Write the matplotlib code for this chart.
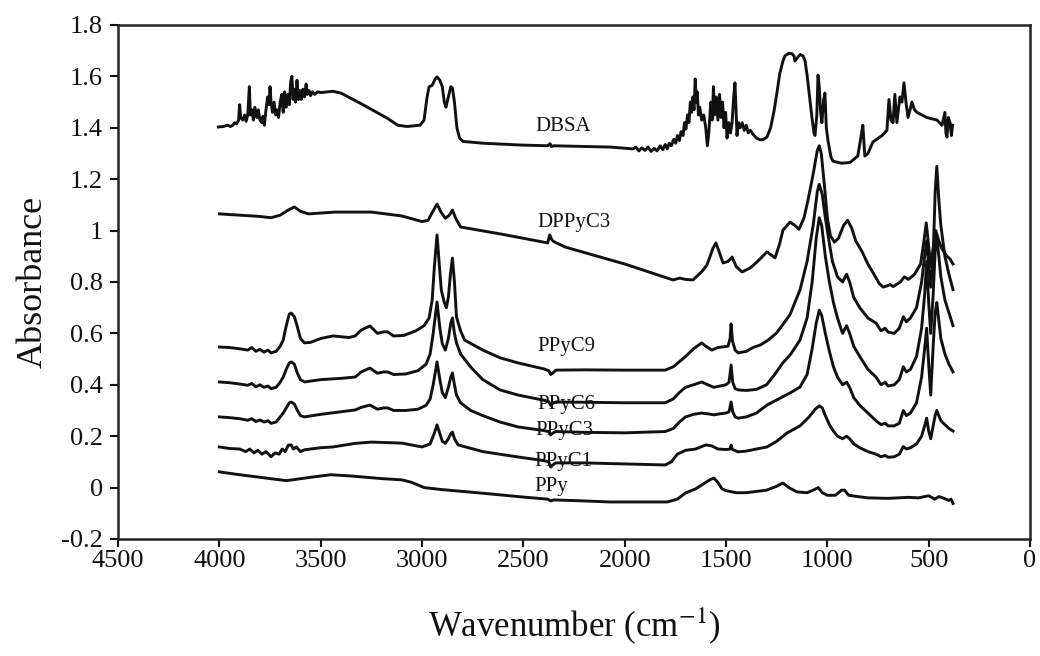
import numpy as np
import matplotlib
matplotlib.use("Agg")
import matplotlib.pyplot as plt

plt.rcParams['font.family'] = ['Liberation Serif', 'DejaVu Serif']
plt.rcParams['mathtext.fontset'] = 'stix'
plt.rcParams['axes.unicode_minus'] = False

# spectra: (wavenumber, absorbance)
dbsa = np.array([
    (4005, 1.403), (3980, 1.405), (3960, 1.41), (3945, 1.405), (3933, 1.41), (3925, 1.42),
    (3915, 1.415), (3905, 1.43), (3900, 1.49), (3895, 1.44), (3885, 1.43), (3875, 1.45),
    (3868, 1.425), (3860, 1.45), (3852, 1.56), (3847, 1.45), (3840, 1.47), (3832, 1.43),
    (3825, 1.48), (3815, 1.44), (3808, 1.47), (3800, 1.43), (3790, 1.42), (3785, 1.445),
    (3778, 1.41), (3770, 1.47), (3762, 1.52), (3755, 1.49), (3750, 1.56), (3745, 1.5),
    (3738, 1.46), (3730, 1.50), (3722, 1.45), (3715, 1.47), (3708, 1.44), (3700, 1.50),
    (3692, 1.53), (3685, 1.46), (3678, 1.54), (3670, 1.48), (3662, 1.53), (3655, 1.49),
    (3648, 1.58), (3642, 1.60), (3636, 1.51), (3630, 1.55), (3624, 1.50), (3617, 1.585),
    (3610, 1.51), (3603, 1.545), (3596, 1.51), (3588, 1.55), (3580, 1.52), (3572, 1.57),
    (3566, 1.53), (3558, 1.545), (3550, 1.525), (3540, 1.54), (3530, 1.53), (3515, 1.54),
    (3500, 1.537), (3440, 1.542), (3400, 1.535), (3306, 1.496), (3173, 1.438), (3120, 1.41),
    (3074, 1.405), (3010, 1.41), (2990, 1.43), (2975, 1.52), (2965, 1.56), (2950, 1.565),
    (2935, 1.59), (2926, 1.598), (2912, 1.585), (2900, 1.56), (2890, 1.50), (2882, 1.48),
    (2870, 1.52), (2858, 1.56), (2850, 1.555), (2840, 1.50), (2828, 1.40), (2815, 1.36),
    (2798, 1.347), (2700, 1.34), (2517, 1.333), (2380, 1.33), (2368, 1.338), (2362, 1.327),
    (2350, 1.33), (2073, 1.325), (1989, 1.32), (1960, 1.318), (1945, 1.325), (1930, 1.31),
    (1915, 1.322), (1900, 1.312), (1885, 1.325), (1870, 1.308), (1855, 1.32), (1840, 1.31),
    (1825, 1.33), (1812, 1.315), (1800, 1.335), (1790, 1.318), (1780, 1.34), (1770, 1.33),
    (1758, 1.355), (1748, 1.34), (1740, 1.37), (1730, 1.35), (1722, 1.385), (1712, 1.37),
    (1705, 1.42), (1698, 1.395), (1690, 1.45), (1683, 1.42), (1676, 1.50), (1670, 1.46),
    (1664, 1.52), (1658, 1.47), (1652, 1.59), (1647, 1.50), (1642, 1.54), (1636, 1.45),
    (1630, 1.48), (1620, 1.43), (1610, 1.45), (1600, 1.40), (1592, 1.33), (1585, 1.38),
    (1575, 1.50), (1568, 1.43), (1562, 1.56), (1556, 1.45), (1548, 1.52), (1540, 1.43),
    (1532, 1.53), (1524, 1.44), (1517, 1.50), (1510, 1.40), (1502, 1.46), (1495, 1.36),
    (1486, 1.42), (1478, 1.38), (1470, 1.42), (1462, 1.52), (1456, 1.575), (1450, 1.46),
    (1446, 1.37), (1438, 1.42), (1430, 1.40), (1420, 1.42), (1410, 1.39), (1400, 1.41),
    (1390, 1.38), (1380, 1.39), (1367, 1.375), (1350, 1.36), (1332, 1.353), (1315, 1.355),
    (1298, 1.364), (1280, 1.40), (1262, 1.47), (1249, 1.535), (1235, 1.61), (1219, 1.66),
    (1209, 1.68), (1190, 1.69), (1174, 1.688), (1165, 1.68), (1160, 1.66), (1150, 1.67),
    (1135, 1.685), (1120, 1.68), (1110, 1.66), (1100, 1.605), (1085, 1.50), (1076, 1.44),
    (1066, 1.38), (1061, 1.37), (1052, 1.45), (1046, 1.605), (1040, 1.56), (1033, 1.46),
    (1027, 1.42), (1018, 1.51), (1012, 1.535), (1005, 1.40), (997, 1.35), (982, 1.285),
    (972, 1.27), (930, 1.262), (888, 1.265), (850, 1.29), (835, 1.36), (825, 1.41),
    (815, 1.29), (800, 1.30), (775, 1.345), (730, 1.37), (706, 1.39), (696, 1.51),
    (686, 1.43), (676, 1.42), (667, 1.53), (657, 1.42), (642, 1.52), (632, 1.50),
    (622, 1.575), (612, 1.50), (602, 1.44), (592, 1.47), (583, 1.50), (570, 1.47),
    (558, 1.46), (509, 1.44), (459, 1.43), (434, 1.41), (420, 1.46), (415, 1.38),
    (410, 1.364), (403, 1.44), (395, 1.42), (388, 1.37), (382, 1.41)])

dppyc3 = np.array([
    (4000, 1.065), (3900, 1.06), (3800, 1.055), (3745, 1.05), (3700, 1.06), (3660, 1.08),
    (3630, 1.092), (3600, 1.075), (3560, 1.065), (3430, 1.072), (3250, 1.072), (3100, 1.057),
    (3000, 1.035), (2970, 1.04), (2950, 1.07), (2926, 1.103), (2905, 1.07), (2885, 1.048),
    (2865, 1.06), (2850, 1.08), (2835, 1.05), (2810, 1.014), (2600, 0.985), (2380, 0.952),
    (2370, 0.983), (2360, 0.965), (2350, 0.957), (2290, 0.935), (2000, 0.87), (1762, 0.808),
    (1728, 0.815), (1700, 0.81), (1663, 0.808), (1620, 0.84), (1594, 0.866), (1565, 0.93),
    (1550, 0.952), (1535, 0.92), (1515, 0.874), (1490, 0.88), (1470, 0.897), (1450, 0.86),
    (1421, 0.839), (1380, 0.855), (1347, 0.878), (1298, 0.917), (1258, 0.894), (1235, 0.95),
    (1219, 1.002), (1184, 1.033), (1160, 1.02), (1140, 1.005), (1115, 1.05), (1095, 1.12),
    (1070, 1.22), (1050, 1.31), (1040, 1.33), (1030, 1.30), (1015, 1.18), (1000, 1.05),
    (985, 0.98), (965, 0.955), (945, 0.97), (920, 1.02), (900, 1.04), (880, 1.01),
    (860, 0.96), (830, 0.92), (800, 0.87), (770, 0.83), (745, 0.795), (725, 0.78),
    (705, 0.785), (690, 0.79), (675, 0.782), (660, 0.79), (640, 0.80), (620, 0.82),
    (600, 0.81), (570, 0.83), (540, 0.87), (525, 0.95), (512, 1.03), (500, 0.94),
    (490, 0.86), (478, 0.93), (465, 1.0), (450, 0.96), (435, 0.93), (410, 0.90),
    (395, 0.89), (380, 0.87)])

ppyc9 = np.array([
    (4000, 0.547), (3950, 0.545), (3900, 0.54), (3860, 0.535), (3840, 0.545), (3820, 0.53),
    (3800, 0.538), (3780, 0.527), (3760, 0.535), (3745, 0.524), (3720, 0.53), (3700, 0.55),
    (3685, 0.574), (3670, 0.63), (3655, 0.675), (3645, 0.679), (3630, 0.665), (3615, 0.625),
    (3600, 0.58), (3580, 0.563), (3550, 0.565), (3500, 0.58), (3440, 0.59), (3360, 0.584),
    (3330, 0.59), (3300, 0.613), (3257, 0.629), (3220, 0.60), (3190, 0.606), (3170, 0.606),
    (3140, 0.59), (3090, 0.592), (3030, 0.61), (2990, 0.63), (2965, 0.66), (2950, 0.73),
    (2940, 0.85), (2926, 0.983), (2915, 0.87), (2905, 0.769), (2890, 0.72), (2880, 0.70),
    (2870, 0.74), (2860, 0.83), (2850, 0.893), (2840, 0.80), (2830, 0.664), (2810, 0.61),
    (2790, 0.574), (2700, 0.535), (2615, 0.505), (2526, 0.485), (2400, 0.462), (2375, 0.455),
    (2365, 0.44), (2355, 0.445), (2340, 0.457), (2200, 0.458), (2000, 0.457), (1800, 0.457),
    (1760, 0.47), (1730, 0.49), (1700, 0.51), (1660, 0.54), (1620, 0.563), (1600, 0.55),
    (1570, 0.535), (1540, 0.545), (1510, 0.548), (1490, 0.55), (1480, 0.58), (1475, 0.637),
    (1468, 0.57), (1455, 0.535), (1440, 0.524), (1400, 0.53), (1367, 0.545), (1330, 0.555),
    (1290, 0.575), (1250, 0.602), (1185, 0.672), (1135, 0.769), (1100, 0.88), (1070, 1.02),
    (1050, 1.15), (1040, 1.18), (1025, 1.14), (1010, 1.05), (990, 0.95), (975, 0.88),
    (950, 0.82), (925, 0.80), (905, 0.83), (890, 0.80), (870, 0.74), (840, 0.70),
    (800, 0.66), (760, 0.64), (735, 0.61), (715, 0.62), (700, 0.605), (670, 0.60),
    (645, 0.62), (625, 0.665), (610, 0.645), (590, 0.66), (560, 0.70), (535, 0.80),
    (520, 0.90), (510, 0.96), (500, 0.86), (490, 0.78), (478, 0.9), (468, 1.15),
    (460, 1.25), (450, 1.12), (440, 1.02), (420, 0.9), (400, 0.83), (380, 0.77)])

ppyc6 = np.array([
    (4000, 0.411), (3950, 0.408), (3900, 0.403), (3860, 0.398), (3840, 0.405), (3820, 0.392),
    (3800, 0.40), (3780, 0.39), (3760, 0.395), (3745, 0.385), (3720, 0.39), (3700, 0.41),
    (3685, 0.43), (3670, 0.46), (3655, 0.485), (3645, 0.489), (3630, 0.48), (3615, 0.445),
    (3600, 0.42), (3580, 0.411), (3500, 0.42), (3400, 0.425), (3330, 0.43), (3300, 0.45),
    (3257, 0.465), (3220, 0.445), (3190, 0.45), (3170, 0.45), (3140, 0.44), (3080, 0.442),
    (3020, 0.455), (2980, 0.48), (2960, 0.52), (2945, 0.60), (2926, 0.722), (2912, 0.62),
    (2900, 0.56), (2885, 0.535), (2870, 0.58), (2858, 0.64), (2850, 0.66), (2840, 0.60),
    (2830, 0.563), (2810, 0.52), (2760, 0.469), (2700, 0.42), (2615, 0.38), (2526, 0.36),
    (2400, 0.34), (2375, 0.335), (2365, 0.32), (2355, 0.328), (2340, 0.333), (2200, 0.332),
    (2000, 0.33), (1800, 0.33), (1760, 0.345), (1730, 0.37), (1700, 0.39), (1660, 0.40),
    (1620, 0.411), (1590, 0.40), (1560, 0.39), (1530, 0.395), (1500, 0.40), (1485, 0.41),
    (1475, 0.477), (1467, 0.41), (1455, 0.385), (1440, 0.38), (1400, 0.378), (1350, 0.382),
    (1300, 0.40), (1260, 0.44), (1220, 0.485), (1180, 0.52), (1135, 0.574), (1100, 0.66),
    (1075, 0.80), (1055, 0.97), (1040, 1.05), (1028, 1.02), (1010, 0.90), (990, 0.80),
    (970, 0.72), (950, 0.66), (925, 0.60), (905, 0.63), (890, 0.60), (870, 0.55),
    (840, 0.51), (800, 0.46), (760, 0.43), (735, 0.40), (715, 0.41), (700, 0.395),
    (670, 0.40), (645, 0.42), (625, 0.47), (610, 0.45), (590, 0.46), (560, 0.51),
    (535, 0.62), (520, 0.75), (510, 0.88), (500, 0.72), (490, 0.60), (478, 0.75),
    (468, 0.92), (460, 0.98), (450, 0.90), (440, 0.82), (420, 0.73), (400, 0.68),
    (380, 0.63)])

ppyc3 = np.array([
    (4000, 0.275), (3950, 0.272), (3900, 0.268), (3860, 0.262), (3840, 0.268), (3820, 0.257),
    (3800, 0.263), (3780, 0.255), (3760, 0.26), (3745, 0.25), (3720, 0.255), (3700, 0.275),
    (3685, 0.29), (3670, 0.31), (3655, 0.33), (3645, 0.333), (3630, 0.325), (3615, 0.30),
    (3600, 0.28), (3580, 0.275), (3500, 0.285), (3400, 0.295), (3330, 0.302), (3300, 0.312),
    (3257, 0.321), (3220, 0.305), (3190, 0.31), (3170, 0.31), (3140, 0.30), (3080, 0.30),
    (3020, 0.305), (2980, 0.32), (2960, 0.345), (2945, 0.40), (2926, 0.489), (2912, 0.42),
    (2900, 0.37), (2885, 0.35), (2870, 0.39), (2858, 0.43), (2850, 0.446), (2840, 0.40),
    (2830, 0.36), (2810, 0.33), (2760, 0.30), (2700, 0.28), (2615, 0.255), (2526, 0.236),
    (2400, 0.222), (2375, 0.218), (2365, 0.205), (2355, 0.212), (2340, 0.218), (2200, 0.215),
    (2000, 0.213), (1800, 0.218), (1760, 0.23), (1730, 0.255), (1700, 0.275), (1660, 0.285),
    (1620, 0.29), (1590, 0.287), (1560, 0.283), (1530, 0.287), (1500, 0.29), (1485, 0.295),
    (1475, 0.333), (1467, 0.295), (1455, 0.275), (1440, 0.27), (1400, 0.275), (1350, 0.29),
    (1298, 0.321), (1240, 0.345), (1180, 0.37), (1135, 0.391), (1100, 0.44), (1075, 0.54),
    (1055, 0.64), (1040, 0.69), (1028, 0.67), (1010, 0.60), (990, 0.53), (970, 0.47),
    (950, 0.43), (925, 0.40), (905, 0.41), (890, 0.39), (870, 0.35), (840, 0.32),
    (800, 0.29), (760, 0.26), (735, 0.245), (715, 0.25), (700, 0.24), (670, 0.24),
    (645, 0.25), (625, 0.30), (610, 0.28), (590, 0.29), (560, 0.33), (535, 0.43),
    (520, 0.54), (510, 0.62), (500, 0.48), (490, 0.36), (478, 0.55), (468, 0.68),
    (460, 0.72), (450, 0.65), (440, 0.58), (420, 0.52), (400, 0.48), (380, 0.45)])

ppyc1 = np.array([
    (4000, 0.158), (3950, 0.152), (3900, 0.15), (3870, 0.14), (3850, 0.15), (3830, 0.135),
    (3810, 0.145), (3790, 0.13), (3770, 0.14), (3745, 0.12), (3725, 0.135), (3705, 0.13),
    (3690, 0.15), (3675, 0.14), (3660, 0.165), (3646, 0.166), (3635, 0.15), (3620, 0.158),
    (3600, 0.14), (3580, 0.147), (3500, 0.155), (3440, 0.158), (3330, 0.172), (3250, 0.177),
    (3100, 0.173), (3000, 0.158), (2960, 0.17), (2940, 0.21), (2926, 0.244), (2912, 0.21),
    (2900, 0.18), (2885, 0.172), (2870, 0.19), (2858, 0.21), (2850, 0.216), (2840, 0.19),
    (2822, 0.166), (2700, 0.14), (2526, 0.119), (2400, 0.105), (2375, 0.10), (2365, 0.08),
    (2355, 0.088), (2340, 0.096), (2200, 0.096), (2000, 0.092), (1800, 0.088), (1770, 0.10),
    (1740, 0.13), (1700, 0.145), (1650, 0.15), (1600, 0.166), (1570, 0.162), (1540, 0.15),
    (1500, 0.148), (1480, 0.15), (1475, 0.165), (1468, 0.148), (1440, 0.139), (1400, 0.142),
    (1350, 0.15), (1298, 0.158), (1250, 0.18), (1200, 0.212), (1135, 0.24), (1090, 0.275),
    (1060, 0.305), (1040, 0.318), (1025, 0.31), (1010, 0.28), (990, 0.245), (970, 0.22),
    (950, 0.20), (925, 0.19), (905, 0.20), (890, 0.19), (870, 0.17), (840, 0.155),
    (800, 0.14), (760, 0.13), (735, 0.12), (715, 0.125), (700, 0.118), (670, 0.12),
    (645, 0.13), (625, 0.16), (610, 0.15), (590, 0.155), (560, 0.17), (535, 0.20),
    (520, 0.24), (510, 0.27), (500, 0.22), (490, 0.19), (478, 0.24), (468, 0.28),
    (460, 0.30), (450, 0.28), (440, 0.26), (420, 0.245), (400, 0.23), (380, 0.22)])

ppy = np.array([
    (4000, 0.061), (3900, 0.05), (3800, 0.04), (3700, 0.03), (3670, 0.027), (3640, 0.03),
    (3550, 0.04), (3450, 0.05), (3350, 0.045), (3200, 0.035), (3100, 0.03), (3050, 0.02),
    (2990, 0.0), (2900, -0.008), (2700, -0.022), (2500, -0.037), (2380, -0.045),
    (2365, -0.052), (2350, -0.048), (2200, -0.052), (2073, -0.056), (1790, -0.056),
    (1740, -0.045), (1700, -0.021), (1650, -0.005), (1620, 0.01), (1580, 0.03), (1560, 0.037),
    (1540, 0.02), (1520, -0.005), (1500, -0.012), (1450, -0.02), (1400, -0.02), (1350, -0.015),
    (1300, -0.01), (1250, 0.005), (1220, 0.018), (1190, 0.0), (1150, -0.017), (1100, -0.02),
    (1070, -0.01), (1045, 0.0), (1025, -0.02), (1000, -0.03), (960, -0.03), (930, -0.01),
    (915, -0.01), (895, -0.03), (850, -0.035), (800, -0.04), (700, -0.042), (600, -0.038),
    (550, -0.04), (500, -0.032), (470, -0.045), (450, -0.035), (430, -0.04), (400, -0.05),
    (390, -0.045), (380, -0.062)])

spectra = [dbsa, dppyc3, ppyc9, ppyc6, ppyc3, ppyc1, ppy]
names = ['DBSA', 'DPPyC3', 'PPyC9', 'PPyC6', 'PPyC3', 'PPyC1', 'PPy']
label_x = [2440, 2430, 2430, 2430, 2440, 2445, 2445]
label_y = [1.405, 1.03, 0.547, 0.325, 0.224, 0.10, 0.005]

fig = plt.figure(figsize=(10.4, 6.56), dpi=100)
ax = fig.add_axes([0.1135, 0.1784, 0.8769, 0.7835])

for s in spectra:
    ax.plot(s[:, 0], s[:, 1], color='#111111', lw=2.1, solid_joinstyle='round')

for n, lx, ly in zip(names, label_x, label_y):
    ax.text(lx, ly, n, fontsize=15, ha='left', va='center', color='#111111')

ax.set_xlim(4500, 0)
ax.set_ylim(-0.2, 1.8)
ax.set_xticks(np.arange(4500, -1, -500))
yt = np.round(np.arange(-0.2, 1.81, 0.2), 1)
ax.set_yticks(yt)
ax.set_yticklabels([f'{v:g}' for v in yt])
ax.tick_params(direction='out', length=6, width=1.5, labelsize=19, colors='#111111')
ax.tick_params(axis='x', pad=2)
ax.tick_params(axis='y', pad=5)
for sp in ax.spines.values():
    sp.set_linewidth(1.8)
    sp.set_color('#222222')

ax.set_xlabel('Wavenumber (cm$^{-1}$)', fontsize=25, labelpad=24, color='#111111')
ax.set_ylabel('Absorbance', fontsize=26, labelpad=8, color='#111111')

fig.savefig('out.png', dpi=100)
